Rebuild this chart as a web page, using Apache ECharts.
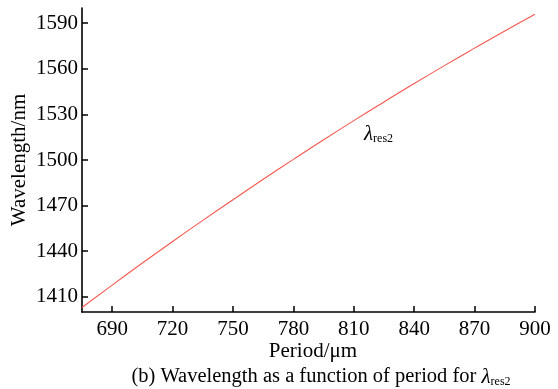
<!DOCTYPE html>
<html>
<head>
<meta charset="utf-8">
<script src="https://cdn.jsdelivr.net/npm/echarts@6/dist/echarts.min.js"></script>
<style>html,body{margin:0;padding:0;background:#fff}#c{width:558px;height:389px}</style>
</head>
<body>
<div id="c"></div>
<script>
var periods = [675, 690, 705, 720, 735, 750, 765, 780, 795, 810, 825, 840, 855, 870, 885, 900];
var wavelengths = [1403.0, 1417.7, 1432.2, 1446.4, 1460.3, 1473.9, 1487.3, 1500.4, 1513.3, 1525.9, 1538.2, 1550.3, 1562.1, 1573.6, 1584.9, 1595.9];
var xTicks = [690, 720, 750, 780, 810, 840, 870, 900];
var yTicks = [1410, 1440, 1470, 1500, 1530, 1560, 1590];

var font = '"Liberation Serif", "DejaVu Serif", serif';
var chart = echarts.init(document.getElementById('c'), null, {renderer: 'canvas'});
chart.setOption({
  animation: false,
  backgroundColor: '#ffffff',
  grid: {left: 82, right: 23, top: 8, bottom: 77, containLabel: false},
  xAxis: {
    type: 'value', min: 675, max: 900,
    axisLine: {show: true, onZero: false, lineStyle: {color: '#000', width: 1.6}},
    axisTick: {show: true, inside: true, length: 6, customValues: xTicks, lineStyle: {color: '#000', width: 1.5}},
    axisLabel: {customValues: xTicks, color: '#000', fontFamily: font, fontSize: 21, margin: 7,
      formatter: function (v) { return String(v); }},
    splitLine: {show: false}
  },
  yAxis: {
    type: 'value', min: 1400, max: 1600,
    axisLine: {show: true, onZero: false, lineStyle: {color: '#000', width: 1.6}},
    axisTick: {show: true, inside: true, length: 6, customValues: yTicks, lineStyle: {color: '#000', width: 1.5}},
    axisLabel: {customValues: yTicks, color: '#000', fontFamily: font, fontSize: 21, margin: 4,
      formatter: function (v) { return String(v); }},
    splitLine: {show: false}
  },
  series: [{
    type: 'line',
    data: periods.map(function (p, i) { return [p, wavelengths[i]]; }),
    smooth: true,
    showSymbol: false,
    lineStyle: {color: '#f5584f', width: 1.1}
  }],
  graphic: [
    {type: 'text', x: 313, y: 351, style: {text: 'Period/\u03bcm', font: '21px ' + font, fill: '#000', align: 'center', verticalAlign: 'middle'}},
    {type: 'text', x: 19, y: 160, rotation: Math.PI / 2, style: {text: 'Wavelength/nm', font: '21px ' + font, fill: '#000', align: 'center', verticalAlign: 'middle'}},
    {type: 'text', x: 321, y: 377, style: {
      rich: {
        n: {fontFamily: font, fontSize: 20.5, fill: '#000'},
        l: {fontFamily: font, fontSize: 21, fontStyle: 'italic', fill: '#000'},
        s: {fontFamily: font, fontSize: 12, fill: '#000', padding: [10, 0, 0, 0]}
      },
      text: '{n|(b) Wavelength as a function of period for }{l|\u03bb}{s|res2}', align: 'center', verticalAlign: 'middle'}},
    {type: 'text', x: 364, y: 134, style: {
      rich: {
        l: {fontFamily: font, fontSize: 21, fontStyle: 'italic', fill: '#000'},
        s: {fontFamily: font, fontSize: 12, fill: '#000', padding: [10, 0, 0, 0]}
      },
      text: '{l|\u03bb}{s|res2}', align: 'left', verticalAlign: 'middle'}}
  ]
});
</script>
</body>
</html>
